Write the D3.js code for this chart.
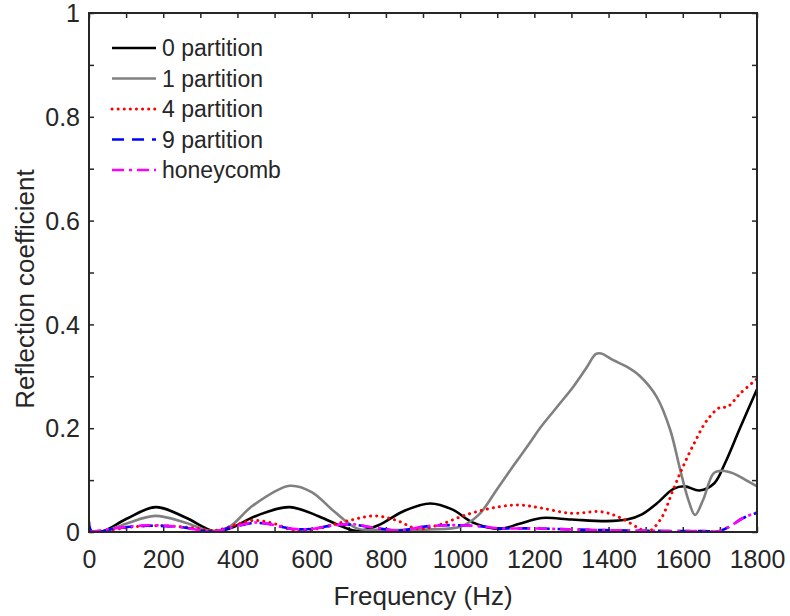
<!DOCTYPE html>
<html>
<head>
<meta charset="utf-8">
<script src="https://cdn.jsdelivr.net/npm/d3@7"></script>
<style>
  body { margin: 0; background: #fff; }
  text { font-family: "Liberation Sans", Arial, sans-serif; fill: #262626; }
</style>
</head>
<body>
<div id="plot"></div>
<script>
// frequency (Hz), reflection coefficient
var partition0 = [[0,0.0],[40,0.002],[100,0.025],[180,0.048],[260,0.028],[335,0.002],[380,0.007],
  [450,0.031],[540,0.048],[620,0.030],[680,0.011],[725,0.002],[780,0.013],[850,0.041],[920,0.055],
  [980,0.043],[1035,0.018],[1107,0.006],[1160,0.016],[1220,0.027],[1300,0.024],[1395,0.021],
  [1450,0.024],[1490,0.034],[1530,0.055],[1575,0.083],[1605,0.088],[1645,0.080],[1685,0.094],
  [1714,0.133],[1754,0.200],[1800,0.275]];
var partition1 = [[0,0.0],[40,0.001],[100,0.016],[178,0.031],[260,0.018],[334,0.001],[380,0.011],
  [440,0.050],[541,0.089],[600,0.077],[660,0.040],[722,0.007],[780,0.004],[850,0.004],[920,0.005],
  [1000,0.010],[1050,0.033],[1100,0.083],[1143,0.127],[1188,0.172],[1215,0.200],[1260,0.240],
  [1305,0.280],[1340,0.316],[1366,0.343],[1380,0.344],[1413,0.331],[1450,0.318],[1485,0.300],
  [1530,0.260],[1566,0.197],[1593,0.120],[1615,0.062],[1633,0.033],[1655,0.062],[1683,0.113],
  [1705,0.118],[1736,0.113],[1770,0.100],[1800,0.088]];
var partition4 = [[0,0.0],[40,0.002],[120,0.010],[200,0.012],[280,0.008],[340,0.003],[400,0.015],
  [440,0.022],[490,0.018],[560,0.002],[620,0.007],[700,0.022],[770,0.031],[830,0.022],[885,0.006],
  [940,0.013],[1020,0.034],[1100,0.048],[1160,0.052],[1220,0.046],[1300,0.036],[1380,0.039],
  [1430,0.028],[1480,0.008],[1505,0.0],[1540,0.024],[1575,0.083],[1600,0.125],[1630,0.170],
  [1665,0.215],[1700,0.240],[1720,0.241],[1755,0.267],[1800,0.295]];
var partition9 = [[0,0.020],[8,0.001],[80,0.008],[160,0.012],[240,0.010],[334,0.001],[380,0.008],
  [440,0.017],[480,0.016],[550,0.006],[600,0.006],[660,0.013],[712,0.014],[770,0.008],[838,0.003],
  [900,0.010],[960,0.013],[1040,0.012],[1107,0.007],[1180,0.007],[1250,0.006],[1350,0.004],
  [1450,0.003],[1550,0.002],[1650,0.002],[1700,0.002],[1730,0.012],[1760,0.026],[1800,0.037]];
var honeycomb = [[0,0.0],[20,0.002],[80,0.008],[160,0.013],[240,0.010],[334,0.001],[380,0.008],
  [440,0.018],[480,0.016],[550,0.006],[600,0.006],[660,0.013],[712,0.015],[770,0.008],[838,0.003],
  [900,0.010],[960,0.013],[1040,0.012],[1107,0.007],[1180,0.007],[1250,0.006],[1350,0.004],
  [1450,0.003],[1550,0.002],[1650,0.002],[1700,0.002],[1730,0.012],[1760,0.026],[1800,0.038]];

var seriesNames = ["0 partition", "1 partition", "4 partition", "9 partition", "honeycomb"];
var xTicks = d3.range(0, 1801, 100);
var yTicks = d3.range(0, 11).map(function(i) { return i / 10; });

var series = [
  {name: seriesNames[0], values: partition0, color: "#000000", width: 2.6, dash: null},
  {name: seriesNames[1], values: partition1, color: "#808080", width: 2.6, dash: null},
  {name: seriesNames[2], values: partition4, color: "#ff0000", width: 3, dash: "0.1 6", cap: "round"},
  {name: seriesNames[3], values: partition9, color: "#0000ff", width: 2.6, dash: "12 8"},
  {name: seriesNames[4], values: honeycomb, color: "#ff00ff", width: 2.6, dash: "12 5 3 5"}
];

var margin = {top: 13, right: 33, bottom: 84, left: 89}
  , width = 790 - margin.left - margin.right
  , height = 616 - margin.top - margin.bottom;

var x = d3.scaleLinear().domain([0, 1800]).range([0, width]);
var y = d3.scaleLinear().domain([0, 1]).range([height, 0]);

var chart = d3.select('#plot')
  .append('svg')
  .attr('width', 790)
  .attr('height', 616);

var main = chart.append('g')
  .attr('transform', 'translate(' + margin.left + ',' + margin.top + ')');

main.append('clipPath').attr('id', 'clip')
  .append('rect').attr('width', width).attr('height', height);

var fmtX = function(d) { return d % 200 === 0 ? d : ''; };
var fmtY = function(d) { return Math.round(d * 10) % 2 === 0 ? d3.format('~g')(d) : ''; };

// bottom / left axes with labels, ticks pointing inward
var xAxis = main.append('g')
  .attr('transform', 'translate(0,' + height + ')')
  .call(d3.axisBottom(x).tickValues(xTicks).tickFormat(fmtX).tickSizeInner(-5).tickSizeOuter(0).tickPadding(18));
var yAxis = main.append('g')
  .call(d3.axisLeft(y).tickValues(yTicks).tickFormat(fmtY).tickSizeInner(-5).tickSizeOuter(0).tickPadding(9));
// top / right ticks only
var xTop = main.append('g')
  .call(d3.axisTop(x).tickValues(xTicks).tickFormat('').tickSizeInner(-5).tickSizeOuter(0));
var yRight = main.append('g')
  .attr('transform', 'translate(' + width + ',0)')
  .call(d3.axisRight(y).tickValues(yTicks).tickFormat('').tickSizeInner(-5).tickSizeOuter(0));

[xAxis, yAxis, xTop, yRight].forEach(function(a) {
  a.select('.domain').remove();
  a.selectAll('line').attr('stroke', '#262626').attr('stroke-width', 1.5);
  a.selectAll('text').style('font-size', '25px').attr('fill', '#262626');
});
yAxis.selectAll('text').attr('dy', '0.35em');

var line = d3.line()
  .x(function(d) { return x(d[0]); })
  .y(function(d) { return y(d[1]); })
  .curve(d3.curveCatmullRom.alpha(0.5));

var g = main.append('g').attr('clip-path', 'url(#clip)');
series.forEach(function(s) {
  g.append('path')
    .datum(s.values)
    .attr('fill', 'none')
    .attr('stroke', s.color)
    .attr('stroke-width', s.width)
    .attr('stroke-dasharray', s.dash)
    .attr('stroke-linecap', s.cap || 'butt')
    .attr('d', line);
});

// box
main.append('rect')
  .attr('width', width)
  .attr('height', height)
  .attr('fill', 'none')
  .attr('stroke', '#262626')
  .attr('stroke-width', 2);

// axis labels
main.append('text')
  .attr('x', width / 2)
  .attr('y', height + 73)
  .attr('text-anchor', 'middle')
  .style('font-size', '26px')
  .text('Frequency (Hz)');

main.append('text')
  .attr('transform', 'translate(' + (34 - margin.left) + ',' + (289 - margin.top) + ') rotate(-90)')
  .attr('text-anchor', 'middle')
  .style('font-size', '26px')
  .text('Reflection coefficient');

// legend
var legend = main.selectAll('.legend')
  .data(series)
  .enter().append('g')
  .attr('class', 'legend')
  .attr('transform', function(d, i) { return 'translate(0,' + (35 + i * 30.5) + ')'; });

legend.append('line')
  .attr('x1', 23).attr('x2', 67)
  .attr('stroke', function(d) { return d.color; })
  .attr('stroke-width', function(d) { return d.width; })
  .attr('stroke-dasharray', function(d) { return d.dash; })
  .attr('stroke-linecap', function(d) { return d.cap || 'butt'; });

legend.append('text')
  .attr('x', 73)
  .attr('dy', '0.35em')
  .style('font-size', '23px')
  .text(function(d) { return d.name; });
</script>
</body>
</html>
